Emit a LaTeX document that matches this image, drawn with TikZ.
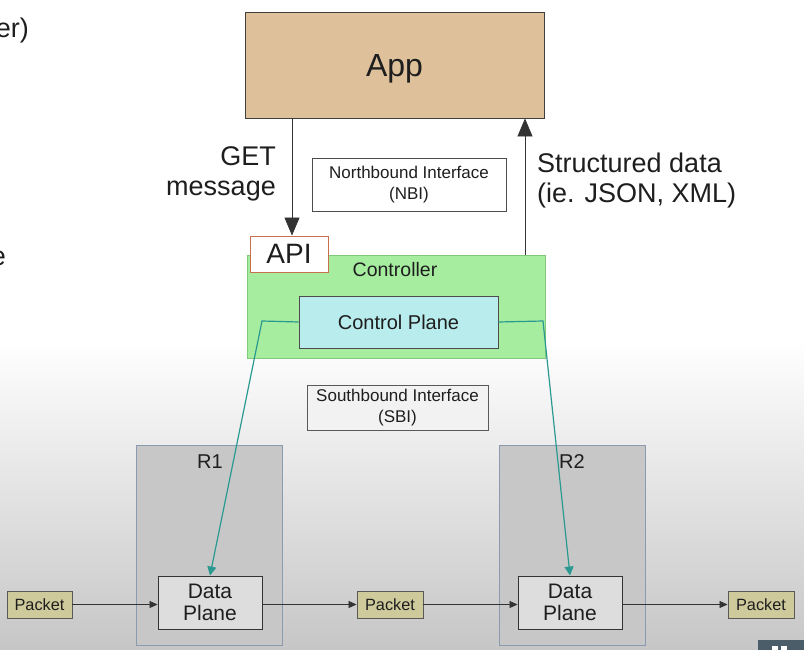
\documentclass[tikz,border=0pt]{standalone}
\usepackage{fontspec}
\setmainfont{Liberation Sans}
\usetikzlibrary{arrows.meta}

\definecolor{apptan}{HTML}{DEC19B}
\definecolor{ctrlgreen}{HTML}{A6EDA0}
\definecolor{ctrledge}{HTML}{7FC87C}
\definecolor{cpcyan}{HTML}{B9ECEC}
\definecolor{apiedge}{HTML}{C8704E}
\definecolor{routerfill}{HTML}{C7C7C7}
\definecolor{routeredge}{HTML}{8A9BB0}
\definecolor{dpfill}{HTML}{DDDDDD}
\definecolor{pktfill}{HTML}{CECA9B}
\definecolor{southteal}{HTML}{2A9A90}
\definecolor{inktext}{HTML}{1E1E1E}
\definecolor{bgbottom}{HTML}{C6C6C6}
\definecolor{badge}{HTML}{4B5D69}

% font size with an explicit line pitch
\newcommand{\fsl}[2]{\fontsize{#1}{#2}\selectfont}

\tikzset{
  box/.style={draw=#1, line width=0.9pt, text=inktext, inner sep=0pt, align=center},
  box/.default={black!75},
  bigtip/.style={-{Triangle[length=18pt,width=15pt]}},
  smalltip/.style={-{Triangle[length=8pt,width=7pt]}},
  tealtip/.style={-{Triangle[length=9pt,width=9pt]}},
  flow/.style={draw=black!80, line width=0.8pt},
  sbline/.style={draw=southteal, line width=1.2pt},
  caption/.style={text=inktext, inner sep=0pt}
}

\begin{document}
\begin{tikzpicture}[x=1pt,y=-1pt]
  \useasboundingbox (0,0) rectangle (804,650);
  \clip (0,0) rectangle (804,650);

  % slide background: white fading to grey towards the bottom
  \fill[white] (0,0) rectangle (804,345);
  \shade[top color=white, bottom color=bgbottom] (0,340) rectangle (804,650);

  % text running in from the left edge of the slide
  \node[caption, anchor=east, font=\fsl{27}{30}] (cutA) at (29,31) {er)};
  \node[caption, anchor=east, font=\fsl{27}{30}] (cutB) at (6,258) {e};

  % application layer
  \node[box, fill=apptan, minimum width=299pt, minimum height=106pt]
    (app) at (394.5,65) {};
  \node[caption, font=\fsl{32}{36}] (applabel) at (394.5,69) {App};

  % northbound interface
  \node[box=black!70, fill=white, minimum width=194pt, minimum height=53pt, font=\fsl{17}{21}]
    (nbi) at (409,184.5) {Northbound Interface\\(NBI)};

  % controller
  \node[box=ctrledge, fill=ctrlgreen, minimum width=298pt, minimum height=103pt]
    (ctrl) at (396,306.5) {};
  \node[caption, font=\fsl{19.5}{23}] (ctrllabel) at (395,270) {Controller};
  \node[box=black!70, fill=cpcyan, minimum width=199pt, minimum height=52pt, font=\fsl{20}{24}]
    (cp) at (398.5,322) {Control Plane};
  \node[box=apiedge, fill=white, minimum width=78pt, minimum height=36pt, font=\fsl{28}{32}]
    (api) at (289,254) {API};

  % southbound interface
  \node[box=black!65, fill=white!95!black, minimum width=181pt, minimum height=45pt, font=\fsl{17}{21}]
    (sbi) at (397.5,407.5) {Southbound Interface\\(SBI)};

  % routers
  \node[box=routeredge, fill=routerfill, minimum width=146pt, minimum height=200pt]
    (r1) at (209,545) {};
  \node[caption, font=\fsl{20}{24}] (r1label) at (210,462) {R1};
  \node[box=routeredge, fill=routerfill, minimum width=146pt, minimum height=200pt]
    (r2) at (572,545) {};
  \node[caption, font=\fsl{20}{24}] (r2label) at (572,462) {R2};

  \node[box=black!80, fill=dpfill, minimum width=104pt, minimum height=53pt, font=\fsl{21}{22}]
    (dp1) at (210,602.5) {Data\\Plane};
  \node[box=black!80, fill=dpfill, minimum width=104pt, minimum height=53pt, font=\fsl{21}{22}]
    (dp2) at (570,602.5) {Data\\Plane};

  % packets
  \node[box=black!65, fill=pktfill, minimum width=65pt, minimum height=27pt, font=\fsl{16.3}{20}]
    (pk1) at (39.5,604.5) {Packet};
  \node[box=black!65, fill=pktfill, minimum width=66pt, minimum height=27pt, font=\fsl{16.3}{20}]
    (pk2) at (390,604.5) {Packet};
  \node[box=black!65, fill=pktfill, minimum width=66pt, minimum height=27pt, font=\fsl{16.3}{20}]
    (pk3) at (761,604.5) {Packet};

  % northbound messages
  \draw[flow, bigtip] (app.south -| 292,0) -- (api.north -| 292,0);
  \draw[flow, bigtip] (ctrl.north -| 525,0) -- (app.south -| 525,0);
  \node[caption, anchor=east, align=right, font=\fsl{27}{30}] (getmsg) at (276,173.5)
    {GET\\message};
  \node[caption, anchor=west, align=left, font=\fsl{27}{30}] (structmsg) at (537,180.5)
    {Structured data\\(ie. JSON, XML)};

  % southbound links to the data planes
  \coordinate (sbl) at (262,321);
  \coordinate (sbr) at (543,321);
  \draw[sbline, tealtip] (cp.west) -- (sbl) -- (dp1.north);
  \draw[sbline, tealtip] (cp.east) -- (sbr) -- (dp2.north);

  % packet forwarding path
  \draw[flow, smalltip] (pk1.east) -- (dp1.west |- pk1.east);
  \draw[flow, smalltip] (dp1.east |- pk2.west) -- (pk2.west);
  \draw[flow, smalltip] (pk2.east) -- (dp2.west |- pk2.east);
  \draw[flow, smalltip] (dp2.east |- pk3.west) -- (pk3.west);

  % corner badge
  \fill[badge] (758,640) rectangle (804,650);
  \fill[white] (772,646) rectangle (778,650);
  \fill[white] (781,646) rectangle (787,650);
\end{tikzpicture}
\end{document}
